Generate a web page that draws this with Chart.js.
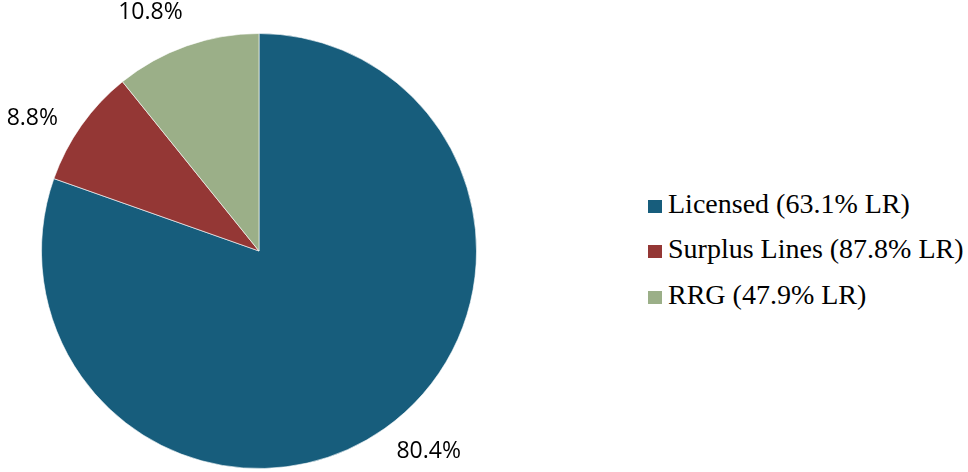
<!DOCTYPE html>
<html>
<head>
<meta charset="utf-8">
<script src="https://cdn.jsdelivr.net/npm/chart.js@4"></script>
<style>
  html, body { margin: 0; padding: 0; background: #ffffff; }
  #wrap { position: relative; width: 968px; height: 472px; overflow: hidden; }
  #lossChart { position: absolute; left: 0; top: 0; }
  #legend {
    position: absolute; left: 648px; top: 181px;
    margin: 0; padding: 0; list-style: none;
    font-family: "Liberation Serif", "Times New Roman", serif;
    font-size: 28px; color: #000000;
  }
  #legend li { display: flex; align-items: center; height: 45.5px; white-space: nowrap; }
  #legend .box { width: 14px; height: 13px; margin: 5px 6px 0 0; flex: none; }
</style>
</head>
<body>
<div id="wrap">
  <canvas id="lossChart" width="518" height="472"></canvas>
  <ul id="legend"></ul>
</div>
<script>
const categories = ['Licensed (63.1% LR)', 'Surplus Lines (87.8% LR)', 'RRG (47.9% LR)'];
const shares = [80.4, 8.8, 10.8];
const colors = ['#175d7c', '#943735', '#9baf88'];

// 円グラフの外側にパーセント表示
const outsideLabels = {
    id: 'outsideLabels',
    afterDatasetsDraw(chart, args, opts) {
        const ctx = chart.ctx;
        const meta = chart.getDatasetMeta(0);
        ctx.save();
        ctx.font = opts.font;
        ctx.fillStyle = opts.color;
        ctx.textAlign = 'center';
        ctx.textBaseline = 'middle';
        meta.data.forEach((arc, i) => {
            const mid = (arc.startAngle + arc.endAngle) / 2 + opts.angleShift;
            const r = arc.outerRadius + opts.offset;
            const x = arc.x + Math.cos(mid) * r;
            const y = arc.y + Math.sin(mid) * r;
            ctx.fillText(shares[i].toFixed(1) + '%', x, y);
        });
        ctx.restore();
    }
};

// 凡例はHTMLで作る（円との間隔を元の図に合わせるため）
const htmlLegend = {
    id: 'htmlLegend',
    afterUpdate(chart) {
        const ul = document.getElementById('legend');
        ul.innerHTML = '';
        const items = chart.options.plugins.legend.labels.generateLabels(chart);
        items.forEach(item => {
            const li = document.createElement('li');
            const box = document.createElement('span');
            box.className = 'box';
            box.style.background = item.fillStyle;
            li.appendChild(box);
            li.appendChild(document.createTextNode(item.text));
            ul.appendChild(li);
        });
    }
};

const config = {
    type: 'pie',
    data: {
        labels: categories,
        datasets: [{
            data: shares,
            backgroundColor: colors,
            borderColor: 'rgba(255,255,255,0.6)',
            borderWidth: 1
        }]
    },
    options: {
        responsive: false,
        animation: false,
        layout: {
            padding: { left: 0, right: 0, top: 33, bottom: 3 }
        },
        plugins: {
            legend: { display: false },
            tooltip: { enabled: false },
            outsideLabels: {
                font: '23px "Open Sans", sans-serif',
                color: '#000000',
                offset: 45,
                angleShift: -5 * Math.PI / 180
            }
        }
    },
    plugins: [outsideLabels, htmlLegend]
};

// グラフの描画
const ctx = document.getElementById('lossChart').getContext('2d');
new Chart(ctx, config);
</script>
</body>
</html>
